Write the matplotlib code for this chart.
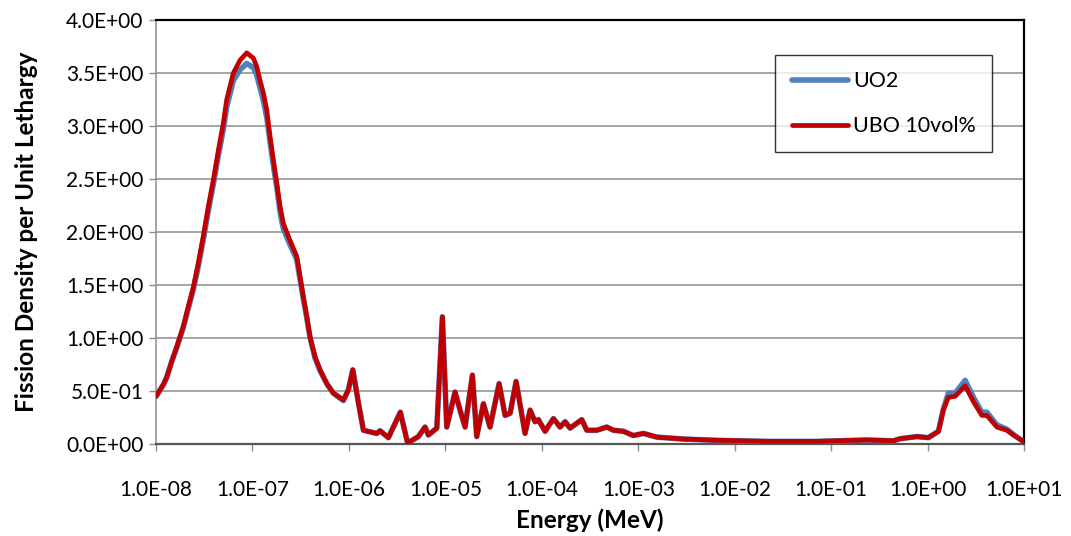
import matplotlib.pyplot as plt
import numpy as np
from matplotlib.ticker import FixedLocator, NullLocator

plt.rcParams["font.family"] = ["Lato", "DejaVu Sans"]

# log10 of neutron energy (MeV) at each tabulated point
log_energy = [
    -8.000, -7.924, -7.889, -7.837, -7.785, -7.717, -7.665, -7.613, -7.561,
    -7.510, -7.458, -7.406, -7.354, -7.302, -7.267, -7.198, -7.129, -7.060,
    -6.991, -6.956, -6.922, -6.887, -6.852, -6.818, -6.784, -6.748, -6.714,
    -6.680, -6.611, -6.541, -6.473, -6.437, -6.403, -6.351, -6.299, -6.230,
    -6.162, -6.058,
    -6.006, -5.960, -5.902, -5.850, -5.712,
    -5.677, -5.591, -5.467, -5.392, -5.280, -5.211, -5.176, -5.089, -5.031,
    -4.986, -4.900, -4.848, -4.796, -4.720, -4.675, -4.606, -4.537, -4.443,
    -4.381, -4.329, -4.267, -4.174, -4.122, -4.070, -4.036, -3.966, -3.880,
    -3.811, -3.759, -3.707, -3.586, -3.534, -3.430, -3.327, -3.258, -3.154,
    -3.051, -2.947, -2.808, -2.532, -2.186, -1.668, -1.149, -0.631, -0.355,
    -0.285, -0.112, 0.008, 0.112, 0.163, 0.215, 0.285, 0.389, 0.475, 0.562,
    0.614, 0.718, 0.821, 0.889, 1.000,
]

# fission density per unit lethargy, UBO 10vol% fuel
ubo = [
    0.45, 0.56, 0.63, 0.78, 0.92, 1.11, 1.30, 1.48, 1.71,
    1.96, 2.24, 2.49, 2.77, 3.03, 3.25, 3.50, 3.62, 3.69,
    3.64, 3.56, 3.43, 3.31, 3.15, 2.90, 2.68, 2.46, 2.24,
    2.08, 1.92, 1.77, 1.39, 1.20, 1.01, 0.82, 0.70, 0.57,
    0.48, 0.415,
    0.51, 0.70, 0.39, 0.13, 0.10,
    0.125, 0.06, 0.30, 0.01, 0.07, 0.16, 0.085, 0.15, 1.20,
    0.16, 0.49, 0.32, 0.16, 0.65, 0.07, 0.38, 0.16, 0.57,
    0.27, 0.29, 0.59, 0.10, 0.32, 0.21, 0.23, 0.12, 0.24,
    0.16, 0.21, 0.15, 0.23, 0.13, 0.13, 0.16, 0.13, 0.12,
    0.08, 0.10, 0.065, 0.047, 0.035, 0.025, 0.025, 0.038, 0.03,
    0.05, 0.07, 0.06, 0.12, 0.32, 0.44, 0.45, 0.55, 0.40, 0.27,
    0.27, 0.16, 0.13, 0.085, 0.02,
]

# fission density per unit lethargy, UO2 fuel
uo2 = [
    0.45, 0.56, 0.63, 0.78, 0.91, 1.10, 1.28, 1.46, 1.68,
    1.93, 2.20, 2.45, 2.72, 2.97, 3.18, 3.43, 3.53, 3.59,
    3.55, 3.48, 3.36, 3.24, 3.08, 2.85, 2.63, 2.42, 2.19,
    2.03, 1.88, 1.74, 1.37, 1.19, 1.00, 0.81, 0.69, 0.57,
    0.48, 0.41,
    0.51, 0.70, 0.39, 0.13, 0.10,
    0.125, 0.06, 0.30, 0.01, 0.07, 0.16, 0.085, 0.15, 1.20,
    0.16, 0.49, 0.32, 0.16, 0.65, 0.07, 0.38, 0.16, 0.57,
    0.27, 0.29, 0.59, 0.10, 0.32, 0.21, 0.23, 0.12, 0.24,
    0.16, 0.21, 0.15, 0.23, 0.13, 0.13, 0.16, 0.13, 0.12,
    0.08, 0.10, 0.065, 0.047, 0.035, 0.025, 0.025, 0.038, 0.03,
    0.05, 0.07, 0.06, 0.12, 0.33, 0.48, 0.48, 0.60, 0.44, 0.30,
    0.30, 0.18, 0.14, 0.09, 0.02,
]

x_ticks = [1e-8, 1e-7, 1e-6, 1e-5, 1e-4, 1e-3, 1e-2, 1e-1, 1e0, 1e1]
y_ticks = [0.0, 0.5, 1.0, 1.5, 2.0, 2.5, 3.0, 3.5, 4.0]

energy = 10.0 ** np.array(log_energy)

fig = plt.figure(figsize=(10.71, 5.36), dpi=100)
ax = fig.add_axes([0.1457, 0.1716, 0.8105, 0.7911])

ax.plot(energy, uo2, color="#4F81BD", lw=4.0, solid_joinstyle="round",
        solid_capstyle="round", label="UO2", zorder=3)
ax.plot(energy, ubo, color="#C00000", lw=3.4, solid_joinstyle="round",
        solid_capstyle="round", label="UBO 10vol%", zorder=4)

ax.set_xscale("log")
ax.set_xlim(1e-8, 1e1)
ax.set_ylim(0, 4)
ax.xaxis.set_major_locator(FixedLocator(x_ticks))
ax.xaxis.set_minor_locator(NullLocator())
ax.set_xticklabels([f"{t:.1E}" for t in x_ticks])
ax.set_yticks(y_ticks)
ax.set_yticklabels([f"{t:.1E}" for t in y_ticks])

ax.grid(axis="y", color="#8C8C8C", lw=1.1)
ax.set_axisbelow(True)

ax.tick_params(axis="x", direction="out", length=5, width=1, color="#8C8C8C",
               pad=21, labelsize=15)
ax.tick_params(axis="y", direction="out", length=5, width=1, color="#8C8C8C",
               pad=4, labelsize=15)

for side in ("top", "right"):
    ax.spines[side].set_color("black")
    ax.spines[side].set_linewidth(1.6)
ax.spines["left"].set_color("#8C8C8C")
ax.spines["left"].set_linewidth(1.1)
ax.spines["bottom"].set_color("#555555")
ax.spines["bottom"].set_linewidth(1.6)

ax.set_xlabel("Energy (MeV)", fontsize=17.5, fontweight="bold", labelpad=6)
ax.set_ylabel("Fission Density per Unit Lethargy", fontsize=17.5,
              fontweight="bold", labelpad=20)

leg = ax.legend(loc="upper right", bbox_to_anchor=(0.963, 0.917),
                fontsize=15.5, frameon=True, fancybox=False, handlelength=2.6,
                handletextpad=0.25, labelspacing=1.15, borderpad=0.75,
                borderaxespad=0)
leg.get_frame().set_edgecolor("black")
leg.get_frame().set_linewidth(1.0)

fig.savefig("out.png", dpi=100)
